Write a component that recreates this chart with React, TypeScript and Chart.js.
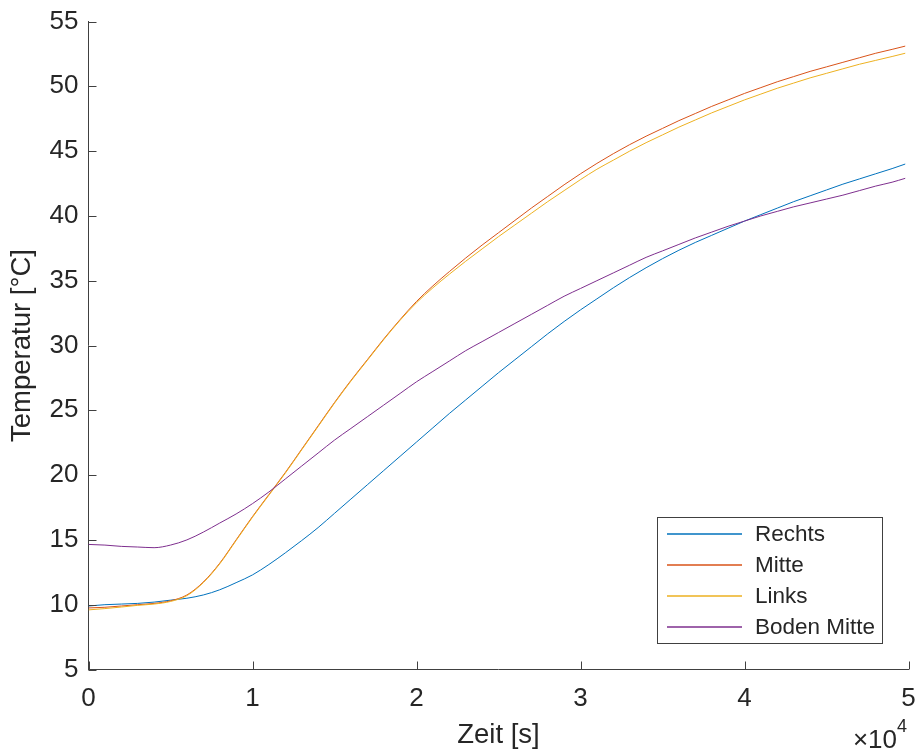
import React, { useEffect, useRef } from "react";
import { Chart, registerables } from "chart.js";

Chart.register(...registerables);

// time in seconds
const timeS = [
  0, 1000, 2000, 3000, 4000, 5000, 6000, 7000, 8000, 9000,
  10000, 11000, 12000, 13000, 14000, 15000, 16000, 17000, 18000, 19000,
  20000, 21000, 22000, 23000, 24000, 25000, 26000, 27000, 28000, 29000,
  30000, 31000, 32000, 33000, 34000, 35000, 36000, 37000, 38000, 39000,
  40000, 41000, 42000, 43000, 44000, 45000, 46000, 47000, 48000, 49000, 49800,
];

const rechts = [
  9.9, 10.0, 10.05, 10.1, 10.2, 10.35, 10.5, 10.75, 11.15, 11.7,
  12.3, 13.1, 14.0, 14.95, 15.95, 17.05, 18.15, 19.25, 20.35, 21.45,
  22.55, 23.65, 24.75, 25.8, 26.85, 27.9, 28.9, 29.9, 30.9, 31.85,
  32.75, 33.6, 34.45, 35.25, 36.0, 36.7, 37.35, 37.95, 38.5, 39.05,
  39.6, 40.1, 40.6, 41.1, 41.55, 42.0, 42.45, 42.85, 43.25, 43.65, 44.0,
];

const mitte = [
  9.75, 9.8, 9.9, 10.0, 10.1, 10.3, 10.75, 11.75, 13.2, 15.0,
  16.8, 18.5, 20.2, 22.0, 23.8, 25.6, 27.3, 28.9, 30.5, 32.0,
  33.4, 34.6, 35.7, 36.75, 37.75, 38.7, 39.65, 40.6, 41.5, 42.4,
  43.25, 44.05, 44.8, 45.5, 46.15, 46.75, 47.35, 47.9, 48.45, 48.95,
  49.45, 49.9, 50.35, 50.75, 51.15, 51.5, 51.85, 52.2, 52.55, 52.85, 53.1,
];

const links = [
  9.6, 9.7, 9.82, 9.95, 10.05, 10.25, 10.7, 11.7, 13.15, 14.95,
  16.75, 18.45, 20.15, 21.95, 23.75, 25.55, 27.25, 28.85, 30.45, 31.95,
  33.3, 34.45, 35.5, 36.5, 37.45, 38.4, 39.3, 40.2, 41.1, 41.95,
  42.8, 43.6, 44.3, 45.0, 45.65, 46.25, 46.85, 47.4, 47.95, 48.45,
  48.95, 49.4, 49.85, 50.25, 50.65, 51.0, 51.35, 51.7, 52.0, 52.3, 52.55,
];

const bodenMitte = [
  14.65, 14.6, 14.5, 14.45, 14.4, 14.6, 15.0, 15.6, 16.3, 17.0,
  17.8, 18.7, 19.7, 20.7, 21.7, 22.7, 23.6, 24.5, 25.4, 26.3,
  27.2, 28.0, 28.8, 29.6, 30.3, 31.0, 31.7, 32.4, 33.1, 33.8,
  34.4, 35.0, 35.6, 36.2, 36.8, 37.3, 37.8, 38.3, 38.75, 39.2,
  39.6, 40.0, 40.35, 40.7, 41.0, 41.3, 41.6, 41.95, 42.3, 42.6, 42.9,
];

const seriesNames = ["Rechts", "Mitte", "Links", "Boden Mitte"];
const seriesColors = ["#0072BD", "#D95319", "#EDB120", "#7E2F8E"];
const xLabel = "Zeit [s]";
const yLabel = "Temperatur [°C]";
const xExponent = "4";

const FONT = "'Liberation Sans', Arial, Helvetica, sans-serif";
const TEXT = "#262626";
const AXIS = "#404040";

const W = 921;
const H = 753;

const matlabPlugin = {
  id: "matlabDecor",
  afterDraw(chart: any) {
    const { ctx, chartArea, scales } = chart;
    const xs = scales.x;
    const ys = scales.y;
    ctx.save();
    // inward tick marks
    ctx.strokeStyle = AXIS;
    ctx.lineWidth = 1;
    ctx.beginPath();
    ys.ticks.forEach((t: any) => {
      const py = Math.round(ys.getPixelForValue(t.value)) + 0.5;
      ctx.moveTo(chartArea.left, py);
      ctx.lineTo(chartArea.left + 8, py);
    });
    xs.ticks.forEach((t: any) => {
      const px = Math.round(xs.getPixelForValue(t.value)) + 0.5;
      ctx.moveTo(px, chartArea.bottom);
      ctx.lineTo(px, chartArea.bottom - 8);
    });
    ctx.stroke();

    // exponent label
    ctx.fillStyle = TEXT;
    ctx.textBaseline = "middle";
    ctx.textAlign = "right";
    ctx.font = `26px ${FONT}`;
    ctx.fillText("\u00d710", 897, 741);
    ctx.textAlign = "left";
    ctx.font = `18px ${FONT}`;
    ctx.fillText(xExponent, 897, 727);

    // legend box
    const bx = 657.5;
    const by = 517.5;
    const bw = 225;
    const bh = 126;
    ctx.fillStyle = "#ffffff";
    ctx.fillRect(bx, by, bw, bh);
    ctx.strokeStyle = AXIS;
    ctx.lineWidth = 1;
    ctx.strokeRect(bx, by, bw, bh);
    ctx.font = `22.5px ${FONT}`;
    ctx.textAlign = "left";
    ctx.textBaseline = "middle";
    seriesNames.forEach((name: string, i: number) => {
      const cy = 534 + i * 31;
      ctx.strokeStyle = seriesColors[i];
      ctx.lineWidth = 1.3;
      ctx.beginPath();
      ctx.moveTo(667, cy);
      ctx.lineTo(742, cy);
      ctx.stroke();
      ctx.fillStyle = TEXT;
      ctx.fillText(name, 755, cy + 1);
    });
    ctx.restore();
  },
};

export default function App() {
  const canvasRef = useRef<HTMLCanvasElement | null>(null);

  useEffect(() => {
    const prevMargin = document.body.style.margin;
    document.body.style.margin = "0";
    const canvas = canvasRef.current;
    if (!canvas) return;
    const seriesValues = [rechts, mitte, links, bodenMitte];
    const chart = new Chart(canvas, {
      type: "line",
      data: {
        datasets: seriesNames.map((name, i) => ({
          label: name,
          data: timeS.map((t, j) => ({ x: t, y: seriesValues[i][j] })),
          borderColor: seriesColors[i],
          backgroundColor: seriesColors[i],
          borderWidth: 1,
          pointRadius: 0,
          order: -i,
          cubicInterpolationMode: "monotone" as const,
          fill: false,
        })),
      },
      options: {
        animation: false,
        responsive: false,
        devicePixelRatio: 1,
        layout: { padding: { top: 21.5, right: 12.5, left: 0, bottom: 0 } },
        plugins: {
          legend: { display: false },
          tooltip: { enabled: false },
        },
        scales: {
          x: {
            type: "linear",
            min: 0,
            max: 50000,
            afterFit: (s: any) => {
              s.height = H - 669.5;
              s.paddingLeft = 0;
              s.paddingRight = 0;
            },
            ticks: {
              stepSize: 10000,
              callback: (v: any) => String(Number(v) / 10000),
              font: { size: 26, family: FONT },
              color: TEXT,
              padding: 14,
              maxRotation: 0,
            },
            grid: { display: true, drawOnChartArea: false, drawTicks: false },
            border: { display: true, color: AXIS, width: 1 },
            title: {
              display: true,
              text: xLabel,
              font: { size: 27.5, family: FONT },
              color: TEXT,
              padding: { top: 0, bottom: 1 },
            },
          },
          y: {
            type: "linear",
            min: 5,
            max: 55,
            afterFit: (s: any) => {
              s.width = 88.5;
              s.paddingTop = 0;
              s.paddingBottom = 0;
            },
            ticks: {
              stepSize: 5,
              font: { size: 26, family: FONT },
              color: TEXT,
              padding: 10,
            },
            grid: { display: true, drawOnChartArea: false, drawTicks: false },
            border: { display: true, color: AXIS, width: 1 },
            title: {
              display: true,
              text: yLabel,
              font: { size: 27.5, family: FONT },
              color: TEXT,
              padding: { top: 6, bottom: 0 },
            },
          },
        },
      },
      plugins: [matlabPlugin],
    });
    return () => {
      chart.destroy();
      document.body.style.margin = prevMargin;
    };
  }, []);

  return (
    <div style={{ position: "absolute", left: 0, top: 0, width: W, height: H, background: "#fff" }}>
      <canvas ref={canvasRef} width={W} height={H} style={{ width: W, height: H, display: "block" }} />
    </div>
  );
}
